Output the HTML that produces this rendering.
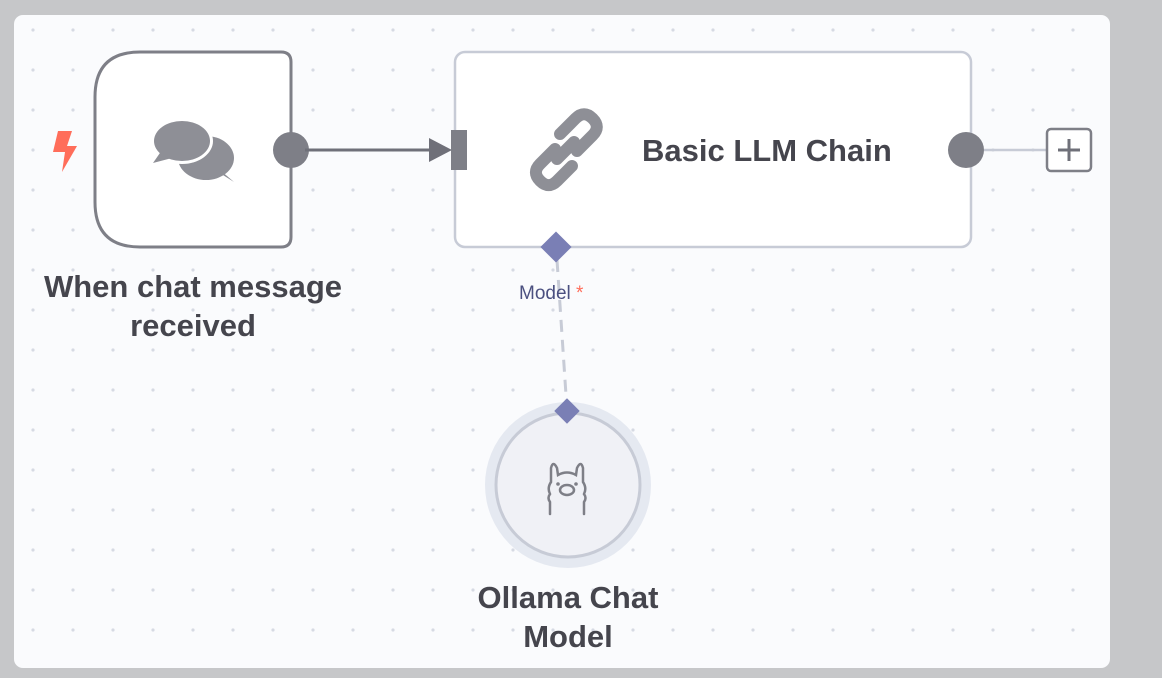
<!DOCTYPE html>
<html><head><meta charset="utf-8"><style>
html,body{margin:0;padding:0;background:#c6c7c9;width:1162px;height:678px;overflow:hidden}
.t{font-family:"Liberation Sans",sans-serif}
</style></head><body>
<svg width="1162" height="678" xmlns="http://www.w3.org/2000/svg" style="position:absolute;left:0;top:0">
<defs>
<pattern id="dots" x="31" y="28" width="40" height="40" patternUnits="userSpaceOnUse">
<circle cx="2" cy="2" r="1.6" fill="#d6dae3"/>
</pattern>
</defs>
<rect x="14" y="15" width="1096" height="653" rx="9" fill="#fafbfd"/>
<rect x="14" y="15" width="1096" height="653" rx="9" fill="url(#dots)"/>

<!-- trigger node -->
<path d="M140,52 H281 Q291,52 291,62 V237 Q291,247 281,247 H140 Q95,247 95,202 V97 Q95,52 140,52 Z" fill="#fff" stroke="#7e7f87" stroke-width="3"/>
<path d="M58,131 H72 L67,146 H77 L62,172 L65,152 H53 Z" fill="#ff6d5a"/>
<!-- chat icon -->
<ellipse cx="206" cy="158" rx="28" ry="22" fill="#8e8f96"/>
<path d="M215,170 L234,182 L220,170 Z" fill="#8e8f96"/>
<ellipse cx="182" cy="141" rx="31" ry="23" fill="#fff"/>
<ellipse cx="182" cy="141" rx="28" ry="20" fill="#8e8f96"/>
<path d="M162,150 L153,163 L172,158 Z" fill="#8e8f96"/>
<circle cx="291" cy="150" r="18" fill="#7e7f87"/>
<line x1="305" y1="150" x2="432" y2="150" stroke="#6f7079" stroke-width="3"/>
<path d="M429,138 L452,150 L429,162 Z" fill="#6f7079"/>

<!-- LLM node -->
<rect x="455" y="52" width="516" height="195" rx="10" fill="#fff" stroke="#c7cbd6" stroke-width="2.5"/>
<rect x="451" y="130" width="16" height="40" fill="#7e7f87"/>
<g fill="none" stroke="#8e8f96" stroke-width="12" stroke-linecap="round">
<g transform="rotate(-45 555 166)">
<path d="M567,154 H546 Q534,154 534,166 Q534,178 546,178 H567"/>
</g>
<g transform="rotate(-45 577 134)">
<path d="M565,146 H587 Q599,146 599,134 Q599,122 587,122 H565"/>
</g>
<line x1="557" y1="159" x2="574" y2="142"/>
</g>
<text x="642" y="161" class="t" font-size="31" fill="#45454d" font-weight="bold">Basic LLM Chain</text>
<circle cx="966" cy="150" r="18" fill="#7e7f87"/>
<line x1="984" y1="150" x2="1046" y2="150" stroke="#c7cbd6" stroke-width="2.5"/>
<rect x="1047" y="129" width="44" height="42" rx="4" fill="#fff" stroke="#7e7f87" stroke-width="2.5"/>
<path d="M1069,139 V161 M1058,150 H1080" stroke="#6f7079" stroke-width="3"/>

<!-- model connection -->
<line x1="557" y1="260" x2="567" y2="410" stroke="#c7cbd6" stroke-width="3" stroke-dasharray="12,8"/>
<rect x="545" y="236" width="22" height="22" fill="#7a7fb5" transform="rotate(45 556 247)"/>
<text x="519" y="299" class="t" font-size="19" fill="#4b5080">Model <tspan fill="#ff6d5a">*</tspan></text>

<circle cx="568" cy="485" r="83" fill="#e5e9f1"/>
<circle cx="568" cy="485" r="72" fill="#f0f1f6" stroke="#c7cbd6" stroke-width="3"/>
<rect x="558" y="402" width="18" height="18" fill="#7a7fb5" transform="rotate(45 567 411)"/>
<!-- llama -->
<g fill="none" stroke="#7e7f87" stroke-width="2.5" stroke-linecap="round">
<path d="M550,514 V502 Q547,498 550,494 Q547,488 551,482 L551,468 Q553,460 557,468 L558,475 Q567,470 576,475 L577,468 Q581,460 583,468 L583,482 Q587,488 584,494 Q587,498 584,502 V514"/>
<ellipse cx="567" cy="490" rx="7" ry="5"/>
</g>
<circle cx="558" cy="484" r="1.8" fill="#7e7f87"/>
<circle cx="576" cy="484" r="1.8" fill="#7e7f87"/>

<g class="t" font-size="31" fill="#45454d" text-anchor="middle" font-weight="bold">
<text x="193" y="297">When chat message</text>
<text x="193" y="336">received</text>
<text x="568" y="608">Ollama Chat</text>
<text x="568" y="647">Model</text>
</g>
</svg>
</body></html>
